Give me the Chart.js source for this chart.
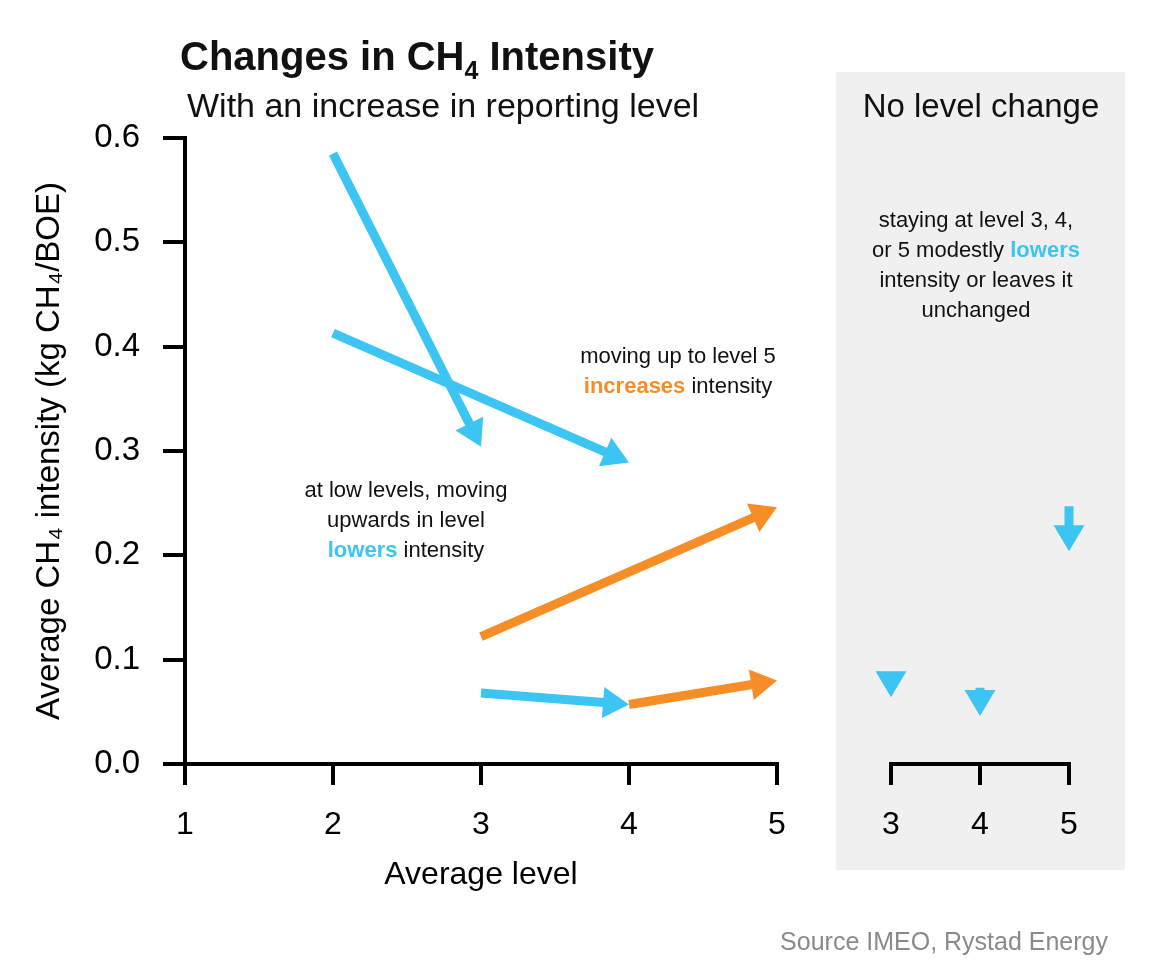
<!DOCTYPE html>
<html>
<head>
<meta charset="utf-8">
<title>Changes in CH4 Intensity</title>
<script src="https://cdn.jsdelivr.net/npm/chart.js@4"></script>
<style>
  html, body { margin: 0; padding: 0; background: #fff; }
  body { width: 1156px; height: 966px; position: relative; overflow: hidden;
         font-family: "Liberation Sans", Arial, sans-serif; color: #111; }
  .abs { position: absolute; white-space: nowrap; z-index: 2; }
  #mainBox { position: absolute; left: 0; top: 0; width: 810px; height: 966px; }
  #panelBox { position: absolute; left: 836px; top: 72px; width: 289px; height: 798px; background: #f0f0f0; }
  .title { left: 180px; top: 36px; font-size: 40px; line-height: 40px; font-weight: bold; }
  .title sub { font-size: 25px; line-height: 0; vertical-align: -9px; }
  .subtitle { left: 187px; top: 88px; font-size: 34px; line-height: 34px; }
  .panelTitle { left: 981px; top: 89px; font-size: 33px; line-height: 33px; transform: translateX(-50%); }
  .note { font-size: 22px; line-height: 30px; text-align: center; transform: translateX(-50%); }
  .blue { color: #3cc4f2; font-weight: bold; }
  .orange { color: #f68e27; font-weight: bold; }
  .source { right: 48px; top: 929px; font-size: 25px; line-height: 25px; color: #8a8a8a; }
</style>
</head>
<body>
<div id="mainBox"><canvas id="mainChart"></canvas></div>
<div id="panelBox"><canvas id="panelChart"></canvas></div>

<div class="abs title">Changes in CH<sub>4</sub> Intensity</div>
<div class="abs subtitle">With an increase in reporting level</div>
<div class="abs panelTitle">No level change</div>
<div class="abs note" style="left:678px; top:341px;">moving up to level 5<br><span class="orange">increases</span> intensity</div>
<div class="abs note" style="left:406px; top:475px;">at low levels, moving<br>upwards in level<br><span class="blue">lowers</span> intensity</div>
<div class="abs note" style="left:976px; top:205px;">staying at level 3, 4,<br>or 5 modestly <span class="blue">lowers</span><br>intensity or leaves it<br>unchanged</div>
<div class="abs source">Source IMEO, Rystad Energy</div>

<script>
// moves between reporting levels (left panel)
const levelFrom = [2, 2, 3, 3, 4];
const levelTo = [3, 4, 5, 4, 5];
const intensityFrom = [0.585, 0.413, 0.122, 0.068, 0.057];
const intensityTo = [0.304, 0.289, 0.246, 0.057, 0.080];
const moveKind = ['lower', 'lower', 'higher', 'lower', 'higher'];

// no level change (right panel)
const stayLevel = [3, 4, 5];
const stayFrom = [0.088, 0.073, 0.247];
const stayTo = [0.064, 0.046, 0.204];

const xTicks = [1, 2, 3, 4, 5];
const stayTicks = [3, 4, 5];
const yTicks = [0, 0.1, 0.2, 0.3, 0.4, 0.5, 0.6];

const colors = { lower: '#3cc4f2', higher: '#f68e27' };
const FONT = '"Liberation Sans", Arial, sans-serif';
const HEAD_LEN = 26;
const HEAD_HALF = 15.5;

// shaft stops inside the head, head tip sits on the data value
const arrowHeads = {
  id: 'arrowHeads',
  afterDatasetsUpdate(chart) {
    chart.data.datasets.forEach((ds, i) => {
      const pts = chart.getDatasetMeta(i).data;
      const a = pts[0], b = pts[1];
      const dx = b.x - a.x, dy = b.y - a.y;
      const len = Math.hypot(dx, dy);
      if (!len) return;
      const back = Math.min(HEAD_LEN * 0.6, len);
      b.x -= dx / len * back;
      b.y -= dy / len * back;
    });
  },
  afterDatasetsDraw(chart) {
    const { ctx, scales } = chart;
    chart.data.datasets.forEach(ds => {
      const p0 = ds.data[0], p1 = ds.data[1];
      const x0 = scales.x.getPixelForValue(p0.x), y0 = scales.y.getPixelForValue(p0.y);
      const x1 = scales.x.getPixelForValue(p1.x), y1 = scales.y.getPixelForValue(p1.y);
      const len = Math.hypot(x1 - x0, y1 - y0);
      const ux = (x1 - x0) / len, uy = (y1 - y0) / len;
      const bx = x1 - ux * HEAD_LEN, by = y1 - uy * HEAD_LEN;
      ctx.save();
      ctx.fillStyle = ds.borderColor;
      ctx.beginPath();
      ctx.moveTo(x1, y1);
      ctx.lineTo(bx - uy * HEAD_HALF, by + ux * HEAD_HALF);
      ctx.lineTo(bx + uy * HEAD_HALF, by - ux * HEAD_HALF);
      ctx.closePath();
      ctx.fill();
      ctx.restore();
    });
  }
};

function arrowSet(x0, y0, x1, y1, color) {
  return {
    data: [{ x: x0, y: y0 }, { x: x1, y: y1 }],
    showLine: true,
    borderColor: color,
    backgroundColor: color,
    borderWidth: 9,
    borderCapStyle: 'butt',
    pointRadius: 0,
    pointHoverRadius: 0,
    clip: false
  };
}

function axisX(min, max, ticks, title, height) {
  return {
    type: 'linear', position: 'bottom', min: min, max: max,
    afterBuildTicks: s => { s.ticks = ticks.map(v => ({ value: v })); },
    afterFit: s => { s.height = height; },
    grid: { drawOnChartArea: false, drawTicks: true, tickLength: 21, color: '#000', lineWidth: 4 },
    border: { display: true, color: '#000', width: 4 },
    ticks: { padding: 21, color: '#000', font: { family: FONT, size: 32 } },
    title: { display: !!title, text: title, color: '#000', padding: 0, font: { family: FONT, size: 32 } }
  };
}

const common = {
  responsive: true,
  maintainAspectRatio: false,
  animation: false,
  events: [],
  plugins: { legend: { display: false }, tooltip: { enabled: false } }
};

new Chart(document.getElementById('mainChart'), {
  type: 'scatter',
  data: {
    datasets: levelFrom.map((lv, i) =>
      arrowSet(lv, intensityFrom[i], levelTo[i], intensityTo[i], colors[moveKind[i]]))
  },
  options: Object.assign({}, common, {
    layout: { padding: { left: 0, top: 138, right: 33, bottom: 72 } },
    scales: {
      x: axisX(1, 5, xTicks, 'Average level', 130),
      y: {
        type: 'linear', min: 0, max: 0.6,
        afterBuildTicks: s => { s.ticks = yTicks.map(v => ({ value: v })); },
        afterFit: s => { s.width = 185; },
        grid: { drawOnChartArea: false, drawTicks: true, tickLength: 22, color: '#000', lineWidth: 4 },
        border: { display: true, color: '#000', width: 4 },
        ticks: { padding: 23, color: '#000', font: { family: FONT, size: 33 },
                 callback: v => v.toFixed(1) },
        title: { display: true, text: 'Average CH₄ intensity (kg CH₄/BOE)', color: '#000',
                 padding: { top: 30, bottom: 0 }, font: { family: FONT, size: 33 } }
      }
    }
  }),
  plugins: [arrowHeads]
});

new Chart(document.getElementById('panelChart'), {
  type: 'scatter',
  data: {
    datasets: stayLevel.map((lv, i) => arrowSet(lv, stayFrom[i], lv, stayTo[i], colors.lower))
  },
  options: Object.assign({}, common, {
    layout: { padding: { left: 55, top: 66, right: 56, bottom: 0 } },
    scales: {
      x: axisX(3, 5, stayTicks, '', 106),
      y: { type: 'linear', min: 0, max: 0.6, display: false }
    }
  }),
  plugins: [arrowHeads]
});
</script>
</body>
</html>
